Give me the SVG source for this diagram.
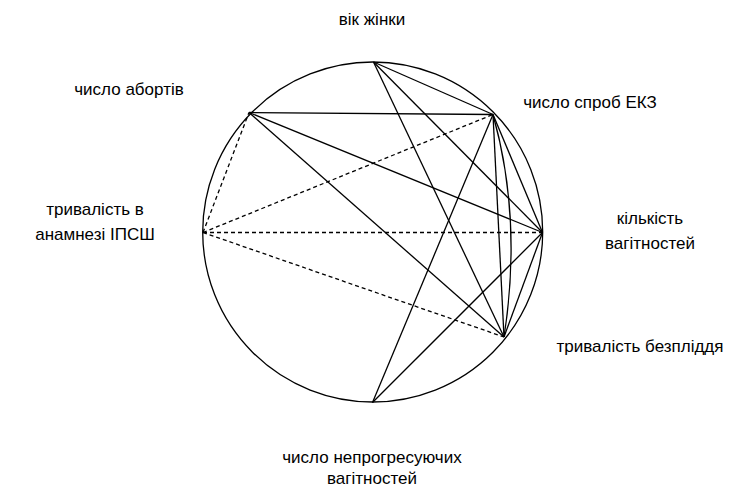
<svg xmlns="http://www.w3.org/2000/svg" width="744" height="490" viewBox="0 0 744 490">
<style>
.e{stroke:#000;stroke-width:1.3;fill:none}
.d{stroke:#000;stroke-width:1.3;fill:none;stroke-dasharray:4 3}
.t{font-family:"Liberation Sans",Arial,sans-serif;font-size:17px;fill:#000}
</style>
<rect width="744" height="490" fill="#fff"/>
<circle cx="372.7" cy="232" r="170" class="e"/>
<g id="connectors">
<line class="e" x1="373.5" y1="62" x2="493" y2="114.5"/>
<line class="e" x1="373.5" y1="62" x2="542.5" y2="232.5"/>
<line class="e" x1="373.5" y1="62" x2="504" y2="337"/>
<line class="e" x1="249" y1="112.5" x2="493" y2="114.5"/>
<line class="e" x1="249" y1="112.5" x2="542.5" y2="232.5"/>
<line class="e" x1="249" y1="112.5" x2="504" y2="337"/>
<line class="e" x1="493" y1="114.5" x2="542.5" y2="232.5"/>
<line class="e" x1="493" y1="114.5" x2="504" y2="337"/>
<line class="e" x1="493" y1="114.5" x2="372.5" y2="402.5"/>
<line class="e" x1="542.5" y1="232.5" x2="504" y2="337"/>
<line class="e" x1="542.5" y1="232.5" x2="372.5" y2="402.5"/>
<path class="e" d="M493 114.5 Q522.4 219 504 337"/>
<line class="d" x1="203" y1="232.5" x2="249" y2="112.5"/>
<line class="d" x1="203" y1="232.5" x2="493" y2="114.5"/>
<line class="d" x1="203" y1="232.5" x2="542.5" y2="232.5"/>
<line class="d" x1="203" y1="232.5" x2="504" y2="337"/>
</g>
<g id="n-vik"><text class="t" x="372" y="25" text-anchor="middle">вік жінки</text></g>
<g id="n-aborty"><text class="t" x="129" y="95" text-anchor="middle">число абортів</text></g>
<g id="n-ekz"><text class="t" x="590" y="108" text-anchor="middle">число спроб ЕКЗ</text></g>
<g id="n-ipssh"><text class="t" x="95" y="215" text-anchor="middle">тривалість в</text><text class="t" x="95" y="240" text-anchor="middle">анамнезі ІПСШ</text></g>
<g id="n-vahitn"><text class="t" x="650" y="224" text-anchor="middle">кількість</text><text class="t" x="650" y="249" text-anchor="middle">вагітностей</text></g>
<g id="n-bezplid"><text class="t" x="640" y="352" text-anchor="middle">тривалість безпліддя</text></g>
<g id="n-neprog"><text class="t" x="372" y="463" text-anchor="middle">число непрогресуючих</text><text class="t" x="372" y="484" text-anchor="middle">вагітностей</text></g>
</svg>
